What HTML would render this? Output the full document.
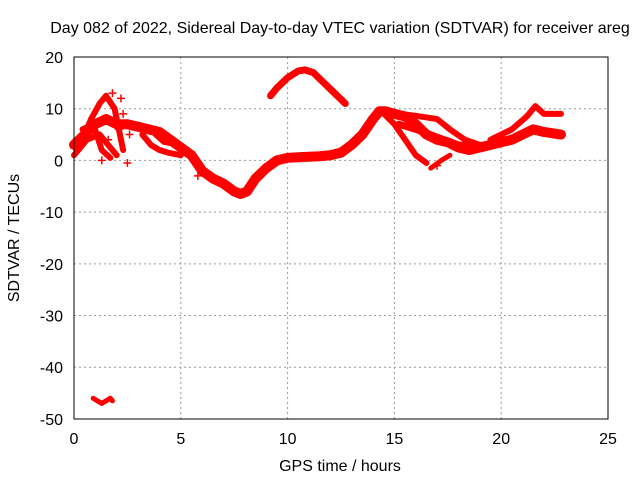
<!DOCTYPE html>
<html><head><meta charset="utf-8"><style>
body{margin:0;background:#fff}
svg{display:block;font-family:"Liberation Sans",sans-serif}
</style></head><body>
<svg id="chart" width="640" height="480" viewBox="0 0 640 480">
<rect width="640" height="480" fill="#fff"/>
<text x="340" y="33" font-size="16" text-anchor="middle">Day 082 of 2022, Sidereal Day-to-day VTEC variation (SDTVAR) for receiver areg</text>
<text x="340" y="471" font-size="16" text-anchor="middle">GPS time / hours</text>
<text transform="translate(19,238) rotate(-90)" font-size="16" text-anchor="middle">SDTVAR / TECUs</text>
<g id="grid"></g><g id="ticks"></g><g id="marks"></g>
<rect x="74" y="57" width="534" height="362" fill="none" stroke="#000" stroke-width="1"/>
</svg>
<script>
const xTicks=[0,5,10,15,20,25];
const yTicks=[20,10,0,-10,-20,-30,-40,-50];
const mainT=[0,0.5,1,1.5,2,2.5,3,3.5,4,4.5,5,5.5,6,6.5,7,7.5,7.8,8.1,8.5,9,9.5,10,10.5,11,11.5,12,12.5,13,13.5,14,14.3,14.6,15,15.5,16,16.5,17,17.5,18,18.5,19,19.5,20,20.5,21,21.5,22,22.8];
const mainV=[3,5,7,8,7,7,6.5,6,5.5,4,2.5,1,-2,-3.5,-4.5,-6,-6.5,-6,-3.5,-1.5,0,0.5,0.6,0.7,0.8,1,1.5,3,5,8,9.5,9.5,9,8.5,7,5,4,3.5,2.5,2,2.5,3,3.5,4,5,6,5.5,5];
const arcT=[9.2,9.5,10,10.5,10.8,11.2,11.7,12.2,12.7];
const arcV=[12.5,14,16,17.3,17.5,17,15,13,11];
const dropT=[14.4,15,15.5,16,16.5];
const dropV=[9.5,7,4,1,-0.5];
const dropBT=[16.7,17.2,17.6];
const dropBV=[-1.5,0,1];
const midAT=[15.3,16.2,17,17.6,18.3,19];
const midAV=[9,8.5,8,6,4,3];
const midBT=[15.2,16,17,18,19];
const midBV=[7,6,4.5,3,2.5];
const upT=[19.5,20.5,21.2,21.6,22,22.8];
const upV=[4,6,8.5,10.5,9,9];
const earlyAT=[0.3,0.8,1.2,1.5,1.9,2.3];
const earlyAV=[3,8,11,12.5,10,2];
const earlyBT=[0.4,0.9,1.3,1.7];
const earlyBV=[6,7,2,0.5];
const earlyCT=[3.2,3.6,4,4.4,5];
const earlyCV=[5,3,2,1.5,1];
const earlyDT=[0,0.6,1.2,1.6,2];
const earlyDV=[1,4,5,3,1];
const earlyET=[3.8,4.2,4.8,5.2];
const earlyEV=[5,3.5,3,1.5];
const outT=[0.9,1.1,1.3,1.5,1.7,1.8];
const outV=[-46,-46.5,-47,-46.5,-46,-46.5];
const plusT=[1.8,2.2,2.6,1.6,2.5,1.3,2.3,5.8,6,17,1.5,2.1];
const plusV=[13,12,5,4,-0.5,0,9,-3,-2,-1,8,6];
const X=t=>74+t*21.36, Y=v=>160.4-v*5.171;
const NS='http://www.w3.org/2000/svg';
const grid=document.getElementById('grid'),ticks=document.getElementById('ticks'),marks=document.getElementById('marks');
function mk(tag,at,parent){const e=document.createElementNS(NS,tag);for(const k in at)e.setAttribute(k,at[k]);parent.appendChild(e);return e;}
xTicks.forEach(t=>{
 if(t>0&&t<25){const g=mk('line',{x1:X(t),x2:X(t),y1:57,y2:419,stroke:'#999','stroke-dasharray':'2,3'},grid);
 
 }
 const l=mk('text',{x:X(t),y:444,'font-size':16,'text-anchor':'middle'},ticks);l.textContent=t;
 
 
});
yTicks.forEach(v=>{
 if(v<20&&v>-50){const g=mk('line',{x1:74,x2:608,y1:Y(v),y2:Y(v),stroke:'#999','stroke-dasharray':'2,3'},grid);
 
 }
 const l=mk('text',{x:63,y:Y(v)+6,'font-size':16,'text-anchor':'end'},ticks);l.textContent=v;
 
 
});
function track(T,V,w,name){
 const p=mk('polyline',{points:T.map((t,i)=>X(t)+','+Y(V[i])).join(' '),fill:'none',stroke:'#f00','stroke-width':w,'stroke-linejoin':'round','stroke-linecap':'round'},marks);
 
 
}
track(mainT,mainV,10,'main-band');
track(arcT,arcV,7,'arc-band');
track(dropT,dropV,6,'drop-band');
track(dropBT,dropBV,5,'drop-b-band');
track(midAT,midAV,6,'mid-a-band');
track(midBT,midBV,7,'mid-b-band');
track(upT,upV,6,'upper-band');
track(earlyAT,earlyAV,6,'early-a-band');
track(earlyBT,earlyBV,6,'early-b-band');
track(earlyCT,earlyCV,6,'early-c-band');
track(earlyDT,earlyDV,6,'early-d-band');
track(earlyET,earlyEV,5,'early-e-band');
track(outT,outV,5,'outlier-band');
plusT.forEach((t,i)=>{
 const p=mk('path',{d:`M${X(t)-4},${Y(plusV[i])}h8M${X(t)},${Y(plusV[i])-4}v8`,stroke:'#f00','stroke-width':1.5},marks);
 
 
});
</script>
</body></html>
